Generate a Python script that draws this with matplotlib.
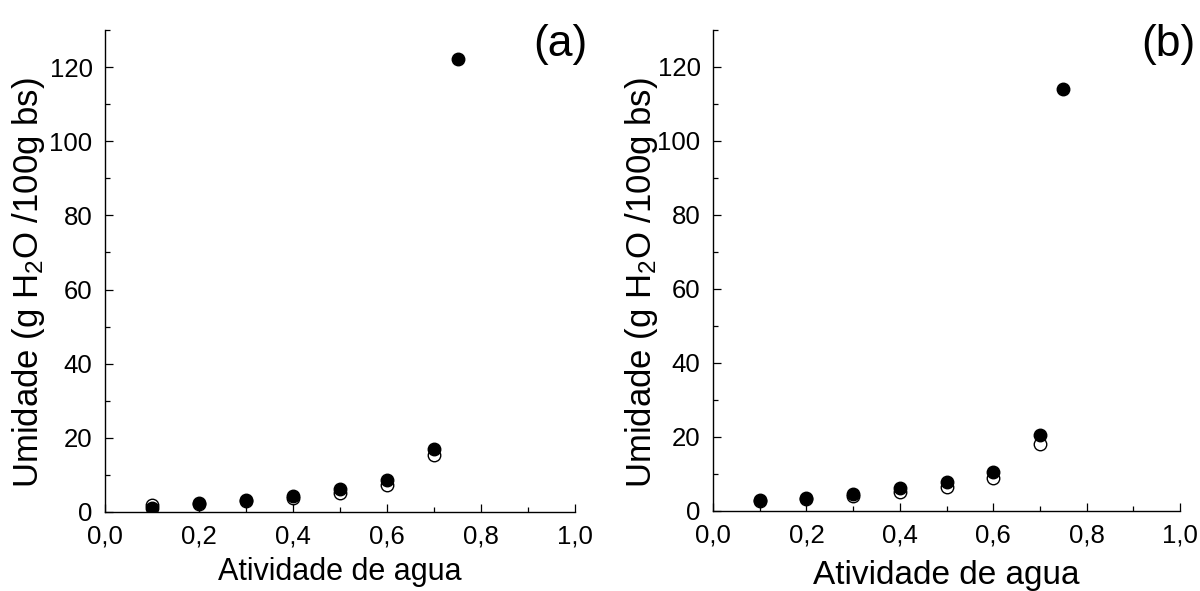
import matplotlib
matplotlib.use("Agg")
import matplotlib.pyplot as plt
from matplotlib.ticker import MultipleLocator, FuncFormatter

plt.rcParams['font.family'] = ['Liberation Sans', 'DejaVu Sans']
plt.rcParams['mathtext.fontset'] = 'custom'
plt.rcParams['mathtext.rm'] = 'Liberation Sans'
plt.rcParams['mathtext.default'] = 'regular'

# atividade de agua (aw)
aw = [0.1, 0.2, 0.3, 0.4, 0.5, 0.6, 0.7]
aw_ext = 0.75

# painel (a)
a_aberto = [1.8, 2.1, 3.0, 3.9, 5.1, 7.2, 15.4]
a_cheio = [1.2, 2.3, 3.3, 4.3, 6.2, 8.5, 17.1]
a_ext = 122.3

# painel (b)
b_aberto = [2.6, 3.2, 4.1, 5.2, 6.6, 9.0, 18.1]
b_cheio = [2.9, 3.5, 4.7, 6.1, 7.7, 10.4, 20.5]
b_ext = 114.0

fig = plt.figure(figsize=(12, 5.91), dpi=100)
ax_a = fig.add_axes([0.0875, 0.1337, 0.3917, 0.8156])
ax_b = fig.add_axes([0.5942, 0.1354, 0.3892, 0.8139])

virgula = FuncFormatter(lambda v, p: ('%.1f' % v).replace('.', ','))


def painel(ax, aberto, cheio, ext, letra, xlab_fs, xlab_y, ylab_x, letra_x):
    ax.plot(aw, aberto, 'o', ms=9, mfc='white', mec='black', mew=1.0, zorder=3)
    ax.plot(aw + [aw_ext], cheio + [ext], 'o', ms=9, mfc='black', mec='black', zorder=4)
    ax.set_xlim(0, 1.0)
    ax.set_ylim(0, 130)
    ax.spines['top'].set_visible(False)
    ax.spines['right'].set_visible(False)
    for s in ('left', 'bottom'):
        ax.spines[s].set_linewidth(1.0)
    ax.xaxis.set_major_locator(MultipleLocator(0.2))
    ax.xaxis.set_minor_locator(MultipleLocator(0.1))
    ax.yaxis.set_major_locator(MultipleLocator(20))
    ax.yaxis.set_minor_locator(MultipleLocator(10))
    ax.xaxis.set_major_formatter(virgula)
    ax.tick_params(which='both', direction='in', top=False, right=False,
                   labelsize=18.5, width=0.9)
    ax.tick_params(which='major', length=6)
    ax.tick_params(which='minor', length=3.5)
    ax.tick_params(axis='x', pad=9)
    ax.tick_params(axis='y', pad=9)
    ax.set_xlabel('Atividade de agua', fontsize=xlab_fs)
    ax.set_ylabel('Umidade (g H$_2$O /100g bs)', fontsize=25)
    ax.xaxis.set_label_coords(0.5, xlab_y)
    ax.yaxis.set_label_coords(ylab_x, 0.475)
    ax.text(letra_x, 0.969, letra, transform=ax.transAxes, fontsize=32,
            ha='center', va='center')


painel(ax_a, a_aberto, a_cheio, a_ext, '(a)', 22, -0.094, -0.124, 0.968)
painel(ax_b, b_aberto, b_cheio, b_ext, '(b)', 24, -0.102, -0.113, 0.974)

fig.savefig('out.png', dpi=100)
